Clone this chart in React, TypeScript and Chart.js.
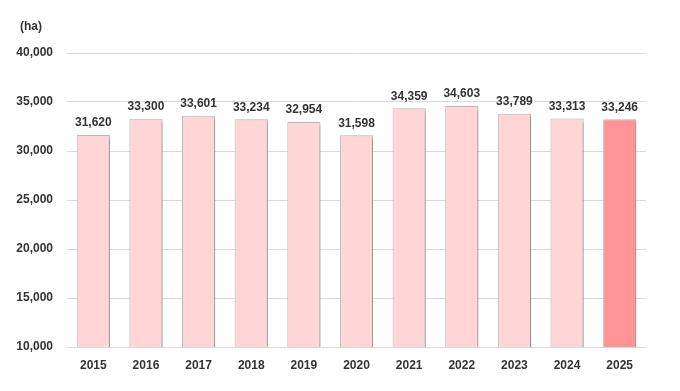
import React, { useEffect, useRef } from "react";
import { Chart, registerables } from "chart.js";

Chart.register(...registerables);

const years = ["2015", "2016", "2017", "2018", "2019", "2020", "2021", "2022", "2023", "2024", "2025"];
const areaHa = [31620, 33300, 33601, 33234, 32954, 31598, 34359, 34603, 33789, 33313, 33246];
const unitLabel = "(ha)";
const yMin = 10000;
const yMax = 40000;
const yStep = 5000;

const FONT = "'Liberation Sans', Arial, sans-serif";
const TEXT = "#333333";

const shadowPlugin = {
  id: "barShadow",
  beforeDatasetsDraw(chart: any) {
    const ctx = chart.ctx;
    ctx.save();
    ctx.shadowColor = "rgba(0,0,0,0.28)";
    ctx.shadowBlur = 4;
    ctx.shadowOffsetX = 3;
    ctx.shadowOffsetY = 2;
  },
  afterDatasetsDraw(chart: any) {
    chart.ctx.restore();
  },
};

const labelPlugin = {
  id: "valueLabels",
  afterDraw(chart: any) {
    const ctx = chart.ctx;
    ctx.save();
    ctx.font = `bold 12px ${FONT}`;
    ctx.fillStyle = TEXT;
    ctx.textAlign = "center";
    ctx.textBaseline = "bottom";
    const meta = chart.getDatasetMeta(0);
    meta.data.forEach((bar: any, i: number) => {
      ctx.fillText(areaHa[i].toLocaleString("en-US"), bar.x, bar.y - 6);
    });
    ctx.textAlign = "left";
    ctx.textBaseline = "middle";
    ctx.fillText(unitLabel, 20, 27);
    ctx.restore();
  },
};

export default function App() {
  const ref = useRef<HTMLCanvasElement>(null);
  useEffect(() => {
    document.body.style.margin = "0";
    const colors = areaHa.map((_, i) => (i === areaHa.length - 1 ? "#FF9497" : "#FFD5D6"));
    const chart = new Chart(ref.current!, {
      type: "bar",
      data: {
        labels: years,
        datasets: [
          {
            data: areaHa,
            backgroundColor: colors,
            borderColor: "#BDBDBD",
            borderWidth: 1,
            categoryPercentage: 1,
            barPercentage: 0.63,
          },
        ],
      },
      options: {
        animation: false,
        responsive: false,
        maintainAspectRatio: false,
        layout: { padding: { top: 53, right: 34, left: 0, bottom: 0 } },
        plugins: { legend: { display: false }, tooltip: { enabled: false }, title: { display: false } },
        scales: {
          x: {
            grid: { display: false, drawTicks: false },
            border: { display: false },
            ticks: { font: { family: FONT, size: 12, weight: "bold" }, color: TEXT, padding: 11 },
            afterFit: (s: any) => {
              s.height = 391 - 347;
            },
          },
          y: {
            min: yMin,
            max: yMax,
            grid: { color: "#D9D9D9", drawTicks: false },
            border: { display: false },
            ticks: {
              stepSize: yStep,
              font: { family: FONT, size: 12, weight: "bold" },
              color: TEXT,
              padding: 14,
              callback: (v: any) => Number(v).toLocaleString("en-US"),
            },
            afterFit: (s: any) => {
              s.width = 67;
            },
          },
        },
      },
      plugins: [shadowPlugin, labelPlugin],
    });
    return () => chart.destroy();
  }, []);
  return (
    <div style={{ width: 680, height: 391 }}>
      <canvas ref={ref} width={680} height={391} style={{ display: "block" }} />
    </div>
  );
}
